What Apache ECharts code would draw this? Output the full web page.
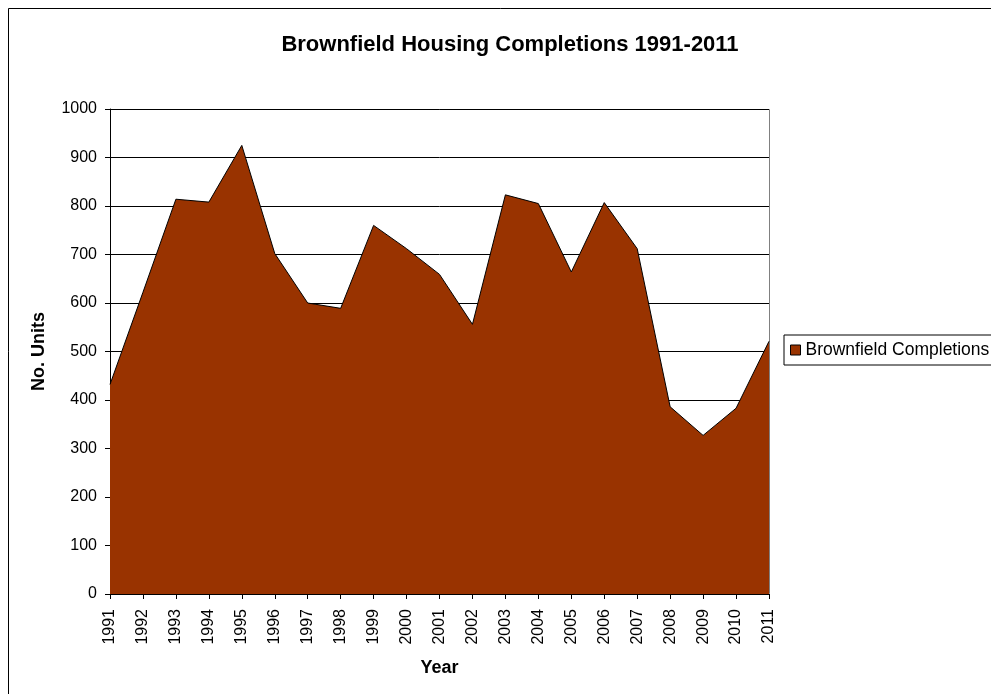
<!DOCTYPE html>
<html>
<head>
<meta charset="utf-8">
<script src="https://cdn.jsdelivr.net/npm/echarts@6/dist/echarts.min.js"></script>
<style>
html, body { margin: 0; padding: 0; background: #fff; }
#chart { width: 991px; height: 694px; }
</style>
</head>
<body>
<div id="chart"></div>
<script>
// years along the x axis
var years = ['1991', '1992', '1993', '1994', '1995', '1996', '1997', '1998', '1999', '2000', '2001',
	'2002', '2003', '2004', '2005', '2006', '2007', '2008', '2009', '2010', '2011'];
// brownfield completions
var completions = [432, 622, 814, 808, 925, 702, 600, 589, 760, 712, 659,
	556, 823, 805, 664, 807, 712, 386, 327, 383, 521];
var yTicks = [0, 100, 200, 300, 400, 500, 600, 700, 800, 900, 1000];

var font = 'Liberation Sans, Arial, sans-serif';
var myChart = echarts.init(document.getElementById('chart'));

var option = {
	animation : false,
	backgroundColor : '#fff',
	textStyle : { fontFamily : font },
	title : {
		text : 'Brownfield Housing Completions 1991-2011',
		left : 505,
		textAlign : 'center',
		top : 29,
		textStyle : { fontFamily : font, fontSize : 22, fontWeight : 'bold', color : '#000' }
	},
	legend : {
		left : 784,
		top : 335,
		padding : [6, 8, 6, 6],
		borderColor : '#000',
		borderWidth : 1,
		itemWidth : 10,
		itemHeight : 10,
		itemGap : 0,
		textStyle : { fontFamily : font, fontSize : 17.5, color : '#000' },
		data : [ {
			name : 'Brownfield Completions',
			icon : 'rect',
			itemStyle : { color : '#993300', borderColor : '#000', borderWidth : 1 }
		} ]
	},
	grid : { left : 110, right : 222, top : 109, bottom : 100, containLabel : false },
	xAxis : {
		type : 'category',
		data : years,
		boundaryGap : false,
		name : 'Year',
		nameLocation : 'middle',
		nameGap : 65,
		nameTextStyle : { fontFamily : font, fontSize : 18, fontWeight : 'bold', color : '#000' },
		axisLine : { lineStyle : { color : '#000', width : 1 } },
		axisTick : { show : true, alignWithLabel : true, length : 5, lineStyle : { color : '#000' } },
		axisLabel : { rotate : 90, fontSize : 16, color : '#000', margin : 15, fontFamily : font },
		splitLine : { show : false }
	},
	yAxis : {
		type : 'value',
		min : yTicks[0],
		max : yTicks[yTicks.length - 1],
		interval : 100,
		name : 'No. Units',
		nameLocation : 'middle',
		nameGap : 62,
		nameTextStyle : { fontFamily : font, fontSize : 18, fontWeight : 'bold', color : '#000' },
		axisLine : { show : true, lineStyle : { color : '#000', width : 1 } },
		axisTick : { show : true, length : 5, lineStyle : { color : '#000' } },
		axisLabel : {
			fontSize : 16, color : '#000', margin : 13, fontFamily : font,
			formatter : function(v) { return String(v); }
		},
		splitLine : { show : true, lineStyle : { color : '#000', width : 1 } }
	},
	graphic : [
		// outer chart border (only the top and left edges are in frame)
		{ type : 'rect', shape : { x : 8.5, y : 8.5, width : 1000, height : 700 },
			style : { fill : 'none', stroke : '#000', lineWidth : 1 }, z : -1 },
		// plot area frame
		{ type : 'rect', shape : { x : 110.5, y : 109.5, width : 659, height : 484 },
			style : { fill : 'none', stroke : '#808080', lineWidth : 1 }, z : 0 }
	],
	series : [ {
		name : 'Brownfield Completions',
		type : 'line',
		data : completions,
		symbol : 'none',
		lineStyle : { color : '#000', width : 1 },
		itemStyle : { color : '#993300' },
		areaStyle : { color : '#993300', opacity : 1 },
		z : 3
	} ]
};
myChart.setOption(option);
</script>
</body>
</html>
